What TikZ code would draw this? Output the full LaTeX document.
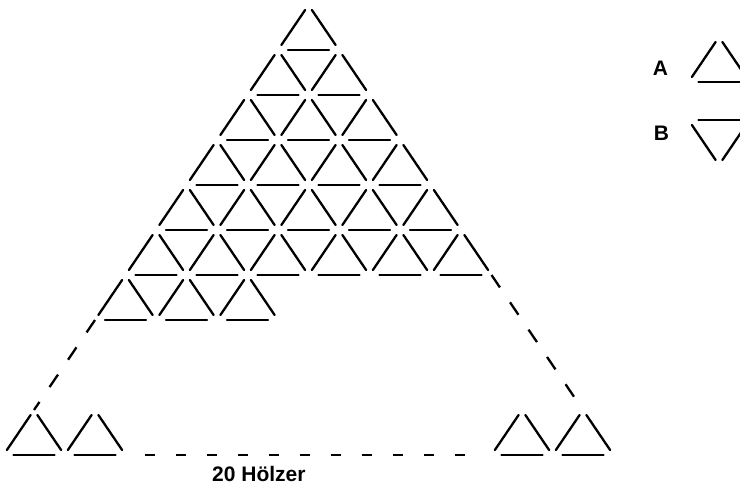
\documentclass[tikz,border=0pt]{standalone}
\usepackage{fontspec}
\setmainfont{Liberation Sans}
\usetikzlibrary{calc}
\tikzset{
  sidestick/.style={line width=2.3pt, line cap=round, shorten <=6pt, shorten >=6pt},
  basestick/.style={line width=2.3pt, line cap=round, shorten <=10pt, shorten >=10pt},
  gapline/.style={line width=2.3pt, dash pattern=on 15pt off 18pt},
  letter/.style={font=\fontsize{21}{21}\selectfont\bfseries, inner sep=0pt}
}
% one little triangle of three sticks: apex, left corner, right corner
\newcommand\uptri[3]{%
  \draw[sidestick] (#1) -- (#2);
  \draw[sidestick] (#1) -- (#3);
  \draw[basestick] (#2) -- (#3);
}

\begin{document}
\begin{tikzpicture}[x=1pt, y=-1pt]
    \clip (0,0) rectangle (740,485);

    % Grid corners
    \foreach \j in {0,...,10}{
      \foreach \k in {0,...,\j}{
        \coordinate (v\j-\k) at ({308.5+(\k-\j/2)*61}, {5+45*\j});
      }
    }

    % Rows 1 to 6
    \foreach \r in {1,...,6}{
      \pgfmathtruncatemacro\up{\r-1}
      \foreach \i in {0,...,\up}{
        \pgfmathtruncatemacro\nx{\i+1}
        \uptri{v\up-\i}{v\r-\i}{v\r-\nx}
      }
    }

    % Row 7 (left part only)
    \uptri{v6-0}{v7-0}{v7-1}
    \uptri{v6-1}{v7-1}{v7-2}
    \uptri{v6-2}{v7-2}{v7-3}

    % Row 10 (both ends)
    \uptri{v9-0}{v10-0}{v10-1}
    \uptri{v9-1}{v10-1}{v10-2}
    \uptri{v9-8}{v10-8}{v10-9}
    \uptri{v9-9}{v10-9}{v10-10}

    % Missing sides
    \draw[gapline] (v7-0) -- (v9-0);
    \draw[gapline] (v6-6) -- (v9-9);
    \draw[gapline, dash pattern=on 10pt off 21pt, shorten <=19pt, shorten >=21pt] (v10-2) -- (v10-8);

    \node[letter, anchor=base west] (count) at (212,481) {20 Hölzer};

    % Legend
    \coordinate (a-top)   at (719,37);
    \coordinate (a-left)  at (688.5,82);
    \coordinate (a-right) at (749.5,82);
    \coordinate (b-left)  at (688.5,120);
    \coordinate (b-right) at (749.5,120);
    \coordinate (b-bot)   at (719,165);

    \node[letter] (legA) at (660.5,68.5) {A};
    \node[letter] (legB) at (661.5,133.5) {B};
    \uptri{a-top}{a-left}{a-right}
    \draw[sidestick] (b-bot) -- (b-left);
    \draw[sidestick] (b-bot) -- (b-right);
    \draw[basestick] (b-left) -- (b-right);
\end{tikzpicture}
\end{document}
